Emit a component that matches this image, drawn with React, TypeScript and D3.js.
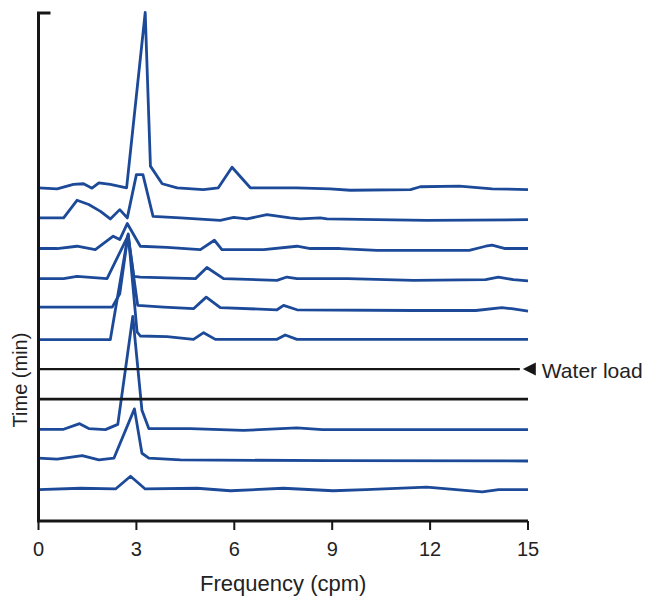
import React from "react";
import * as d3 from "d3";

// Frequency axis ticks (cpm)
const freqTicks = [0, 3, 6, 9, 12, 15];

// Running spectra, bottom row (earliest) to top row (latest); [frequency cpm, relative power]
const row0: [number, number][] = [[0,-0.1],[1.29,0.7],[2.36,0.3],[2.82,7.5],[3.27,0.3],[4.86,0.7],[5.88,-0.7],[7.5,0.7],[9.03,-0.7],[10.03,-0.1],[11.9,1.3],[13.6,-1.3],[14.1,-0.1],[15,-0.1]];
const row1: [number, number][] = [[0,0.7],[0.57,0.1],[1.34,2.2],[1.85,-0.3],[2.31,0.7],[2.94,28.7],[3.17,3.5],[3.38,0.7],[4.35,-0.3],[8.94,-0.7],[15,-0.9]];
const row2: [number, number][] = [[0,0],[0.77,0],[1.26,3.2],[1.54,0.4],[2.05,-0.2],[2.43,2.8],[2.89,64.2],[3.17,10.8],[3.38,0.4],[4.65,0.4],[6.28,-0.6],[7.92,0.8],[8.7,-0.2],[15,-0.2]];
const row3: [number, number][] = [[0,0],[15,0]];
const row4: [number, number][] = [[0,0],[14.75,0]];
const row5: [number, number][] = [[0,-0.4],[2.2,-0.4],[2.75,59.7],[3.02,4.1],[3.12,1.7],[3.94,1.3],[4.75,-0.2],[5.06,3.6],[5.42,-0.2],[7.31,-0.2],[7.56,2.3],[7.92,-0.2],[15,-0.2]];
const row6: [number, number][] = [[0,1],[2.26,1],[2.49,8.6],[2.74,41.8],[3.04,2],[3.84,1],[4.75,0.1],[5.14,6.7],[5.57,0.7],[7.31,-0.5],[7.51,2],[7.92,-0.5],[11.48,-0.9],[13.4,-0.9],[14.2,0.7],[14.5,0.1],[15,-1.2]];
const row7: [number, number][] = [[0,0.1],[0.77,0.1],[1.18,1.4],[2.1,0.1],[2.75,24.7],[2.92,1.4],[3.12,1],[4.81,0.1],[5.16,6.4],[5.67,0.1],[7.31,-0.9],[7.61,1],[7.92,0.1],[9.47,0.1],[11.5,-0.9],[13.7,-0.5],[14.09,1],[14.55,-0.5],[15,-1.2]];
const row8: [number, number][] = [[0,0.1],[0.57,0.1],[1.18,1.4],[1.74,-0.5],[2.29,7.1],[2.49,5.2],[2.72,14.3],[3.12,1.4],[3.94,0.7],[4.96,-0.5],[5.39,4.8],[5.62,-0.5],[6.9,-0.5],[7.92,1.4],[8.33,0.1],[9.24,0.1],[10.37,-0.9],[13.2,-0.9],[13.7,1.4],[13.9,2],[14.3,0.1],[15,0.1]];
const row9: [number, number][] = [[0,0.4],[0.77,0.4],[1.18,10.4],[1.54,8],[1.9,4.1],[2.2,-0.2],[2.49,5.1],[2.72,0.4],[3.0,25],[3.2,25],[3.51,1.3],[4.35,0.4],[5.57,-1],[5.98,0.7],[6.39,-0.2],[7.0,2.3],[7.71,0.4],[8.02,-0.2],[8.63,0.4],[8.84,-0.2],[11.9,-1],[15,-0.6]];
const row10: [number, number][] = [[0,0.4],[0.57,-0.2],[1.07,2.3],[1.38,2.7],[1.64,0.2],[1.85,3.2],[2.2,2.3],[2.7,0.4],[3.27,100],[3.43,12.7],[3.79,2.7],[4.25,0.4],[5.05,-0.6],[5.51,0.4],[5.93,12.1],[6.49,0.4],[7.9,0.4],[8.94,-0.2],[9.55,-1],[11.4,-0.6],[11.7,1],[12.9,1.3],[13.9,-0.2],[15,-0.6]];

const rows = [row0, row1, row2, row3, row4, row5, row6, row7, row8, row9, row10];
// black marker rows around the water load
const markerRows = [3, 4];
const waterLoadRow = 4;

const W = 651;
const H = 597;

export default function App() {
  const x = d3.scaleLinear().domain([0, 15]).range([38.5, 528]);
  const rowY = d3.scaleLinear().domain([0, 10]).range([489.5, 188.5]);
  const amp = d3.scaleLinear().domain([0, 100]).range([0, 176]);
  const axisY = 521;
  const axisTop = 13;
  const font = "'Liberation Sans', Arial, Helvetica, sans-serif";

  return (
    <svg width={W} height={H} style={{ position: "absolute", left: 0, top: 0, background: "#fff" }}>
      {rows.map((r, i) => {
        const base = rowY(i);
        const line = d3
          .line<[number, number]>()
          .x((d) => x(d[0]))
          .y((d) => base - amp(d[1]));
        const black = markerRows.includes(i);
        return (
          <path
            key={i}
            d={line(r) || ""}
            fill="none"
            stroke={black ? "#161616" : "#1c4a98"}
            strokeWidth={black ? (i === 3 ? 2.7 : 2.1) : 2.8}
            strokeLinejoin="round"
          />
        );
      })}

      {/* water load marker */}
      {(() => {
        const yy = rowY(waterLoadRow);
        const tip = x(14.75) + 3;
        return (
          <g>
            <path d={`M${tip},${yy} L${tip + 13},${yy - 6.5} L${tip + 13},${yy + 6.5} Z`} fill="#161616" />
            <text x={tip + 19} y={yy + 9} fontFamily={font} fontSize={21} fill="#222">
              Water load
            </text>
          </g>
        );
      })()}

      {/* axes */}
      <path
        d={`M${x(0) + 12},${axisTop} H${x(0)} V${axisY} H${x(15)}`}
        fill="none"
        stroke="#161616"
        strokeWidth={3}
      />
      {freqTicks.map((t) => (
        <g key={t}>
          <line x1={x(t)} x2={x(t)} y1={axisY} y2={axisY + 9} stroke="#161616" strokeWidth={2} />
          <text x={x(t)} y={556} textAnchor="middle" fontFamily={font} fontSize={20} fill="#222">
            {t}
          </text>
        </g>
      ))}
      <text x={(x(0) + x(15)) / 2} y={591} textAnchor="middle" fontFamily={font} fontSize={22} fill="#222">
        Frequency (cpm)
      </text>
      <text
        transform={`translate(27,380) rotate(-90)`}
        textAnchor="middle"
        fontFamily={font}
        fontSize={20}
        fill="#222"
      >
        Time (min)
      </text>
    </svg>
  );
}
